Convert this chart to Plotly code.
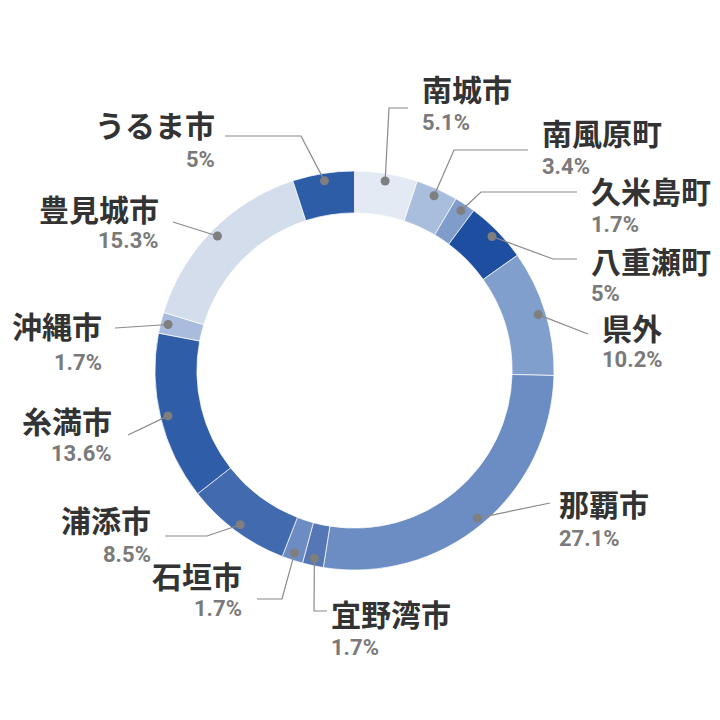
import numpy as np
import plotly.graph_objects as go

W = H = 720
CX, CY = 354.5, 370.5      # donut centre in pixels
R_OUT = 199.5
HOLE = 0.79
R_DOT = 192

names = ["南城市", "南風原町", "久米島町", "八重瀬町", "県外", "那覇市", "宜野湾市",
         "石垣市", "浦添市", "糸満市", "沖縄市", "豊見城市", "うるま市"]
values = [5.1, 3.4, 1.7, 5, 10.2, 27.1, 1.7, 1.7, 8.5, 13.6, 1.7, 15.3, 5]
pct_labels = ["5.1%", "3.4%", "1.7%", "5%", "10.2%", "27.1%", "1.7%",
              "1.7%", "8.5%", "13.6%", "1.7%", "15.3%", "5%"]
colors = ["#E4EAF4", "#A9BEDD", "#7F9CCB", "#1D4EA0", "#809FCC", "#6C8DC3", "#5577B5",
          "#6D8CC3", "#426AAF", "#2F5DA8", "#A9BCDD", "#D3DDEC", "#2E5DA8"]

# label placement (pixels): anchor side, text x, name y, pct y, leader points after the dot
LABEL_POS = {
    "南城市":   ("left", 420, 88, 122, [(389, 108), (408, 108)]),
    "南風原町": ("left", 540, 132, 166, [(454, 150), (528, 150)]),
    "久米島町": ("left", 589, 190, 224, [(481, 192), (577, 192)]),
    "八重瀬町": ("left", 589, 260, 293, [(553, 259), (577, 259)]),
    "県外":     ("left", 600, 327, 359, [(588, 334)]),
    "那覇市":   ("left", 557, 503, 538, [(550, 503)]),
    "宜野湾市": ("left", 329, 613, 647, [(314, 611), (327, 611)]),
    "石垣市":   ("right", 244, 575, 608, [(282, 599), (257, 599)]),
    "浦添市":   ("right", 153, 519, 554, [(207, 536), (165, 536)]),
    "糸満市":   ("right", 114, 420, 453, [(128, 435)]),
    "沖縄市":   ("right", 104, 325, 362, [(115, 328)]),
    "豊見城市": ("right", 161, 208, 241, [(173, 222)]),
    "うるま市": ("right", 217, 124, 159, [(301, 136), (225, 136)]),
}


def px(x):
    return x / W


def py(y):
    return 1 - y / H


fig = go.Figure(go.Pie(
    labels=names,
    values=values,
    hole=HOLE,
    sort=False,
    direction="clockwise",
    rotation=0,
    textinfo="none",
    marker=dict(colors=colors, line=dict(color="rgba(255,255,255,0.7)", width=1)),
    domain=dict(x=[px(CX - R_OUT), px(CX + R_OUT)], y=[py(CY + R_OUT), py(CY - R_OUT)]),
    showlegend=False,
))

annotations = []
shapes = []
total = sum(values)
cum = 0
for name, val, pct in zip(names, values, pct_labels):
    mid = np.radians((cum + val / 2) / total * 360)
    cum += val
    dx = CX + R_DOT * np.sin(mid)
    dy = CY - R_DOT * np.cos(mid)
    side, tx, ny, pyy, pts = LABEL_POS[name]

    path = f"M {px(dx)},{py(dy)} " + " ".join(f"L {px(a)},{py(b)}" for a, b in pts)
    shapes.append(dict(type="path", xref="paper", yref="paper", path=path,
                       line=dict(color="#8a8a8a", width=1.2)))
    shapes.append(dict(type="circle", xref="paper", yref="paper",
                       x0=px(dx - 4.5), x1=px(dx + 4.5), y0=py(dy + 4.5), y1=py(dy - 4.5),
                       fillcolor="#7f7f7f", line=dict(width=0)))

    annotations.append(dict(
        x=px(tx), y=py(ny), xref="paper", yref="paper", xanchor=side, yanchor="middle",
        text=f"<b>{name}</b>", showarrow=False,
        font=dict(family="Noto Sans CJK JP", size=30, color="#333333"),
    ))
    annotations.append(dict(
        x=px(tx), y=py(pyy), xref="paper", yref="paper", xanchor=side, yanchor="middle",
        text=f"<b>{pct}</b>", showarrow=False,
        font=dict(family="Roboto", size=22, color="#7a7a7a"),
    ))

fig.update_layout(
    width=W, height=H,
    margin=dict(l=0, r=0, t=0, b=0),
    paper_bgcolor="white",
    plot_bgcolor="white",
    annotations=annotations,
    shapes=shapes,
)

# drop the default 8px body margin so the figure sits at the page origin
fig.write_html("out.html", config={"displayModeBar": False},
               post_script="document.body.style.margin='0';")
